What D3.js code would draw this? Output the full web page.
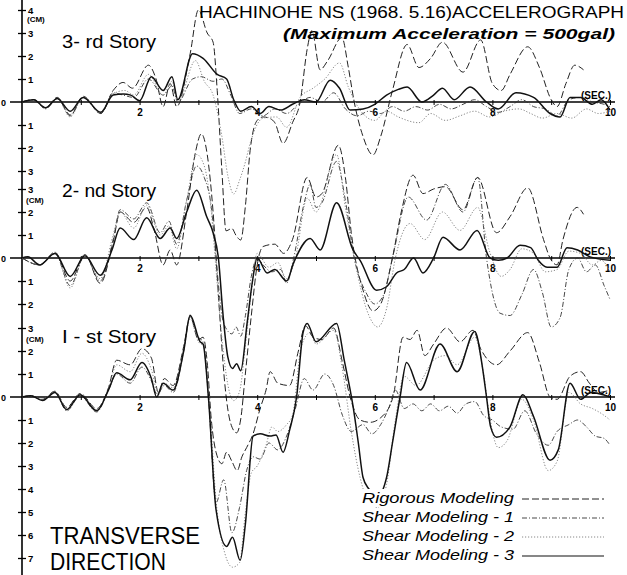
<!DOCTYPE html>
<html>
<head>
<meta charset="utf-8">
<script src="https://cdn.jsdelivr.net/npm/d3@7"></script>
<style>
  body { margin: 0; background: #fff; }
  svg { display: block; font-family: "Liberation Sans", Arial, sans-serif; }
</style>
</head>
<body>
<svg id="chart" width="627" height="575"></svg>
<script>
// [seconds, cm], one array per story and model
const thirdRigorous = [[0,0],[0.2,0.1],[0.4,-0.25],[0.6,0.2],[0.82,-0.6],[1.04,0.25],[1.34,-0.5],[1.55,0.5],[1.72,0.85],[1.88,0.6],[2.15,1.6],[2.28,1.0],[2.4,-0.2],[2.52,0.8],[2.63,-0.2],[2.86,2.1],[3.0,4.0],[3.15,3.0],[3.25,2.6],[3.32,0.5],[3.4,-3.0],[3.47,-5.6],[3.57,-5.5],[3.64,-5.8],[3.72,-6.0],[3.8,-4.5],[3.88,-2.1],[4.0,-0.8],[4.1,-0.65],[4.2,-0.7],[4.3,-0.9],[4.44,-1.8],[4.6,-0.9],[4.73,0],[4.85,2.3],[4.93,3.1],[5.07,1.4],[5.2,1.8],[5.44,2.8],[5.55,1.5],[5.65,0],[5.8,-1.5],[5.97,-2.3],[6.1,-1.5],[6.3,0.5],[6.55,2.5],[6.75,1.5],[6.95,1.9],[7.15,2.6],[7.5,1.3],[7.8,2.7],[8.0,0.8],[8.15,0.5],[8.3,1.2],[8.6,2.4],[8.8,1.5],[9.0,0.1],[9.1,-0.2],[9.25,0.8],[9.4,1.6],[9.55,1.4]];
const thirdShear1 = [[0,0],[0.2,0.1],[0.4,-0.3],[0.6,0.15],[0.82,-0.55],[1.04,0.2],[1.34,-0.5],[1.55,0.4],[1.72,0.3],[1.9,0.2],[2.15,1.0],[2.4,0.3],[2.55,0.7],[2.65,0.0],[2.9,1.0],[3.05,1.1],[3.25,0.9],[3.4,1.0],[3.55,0.3],[3.7,-0.5],[3.9,-0.3],[4.1,-0.6],[4.3,-0.3],[4.5,-0.5],[4.7,-0.1],[4.9,0.2],[5.1,0.0],[5.3,0.4],[5.5,-0.3],[5.7,-0.6],[5.9,-0.4],[6.1,-0.5],[6.3,-0.2],[6.5,-0.4],[6.7,-0.2],[6.9,-0.35],[7.1,-0.1],[7.3,-0.3],[7.5,-0.1],[7.7,0.1],[7.9,-0.2],[8.1,-0.45],[8.3,-0.2],[8.5,0.1],[8.7,-0.2],[8.9,-0.3],[9.1,-0.6],[9.3,0.1],[9.5,0.2],[9.7,0.0],[9.9,-0.1],[10,-0.2]];
const thirdShear2 = [[0,0],[0.2,0.1],[0.4,-0.25],[0.6,0.15],[0.82,-0.65],[1.04,0.2],[1.34,-0.45],[1.55,0.35],[1.75,0.5],[1.9,0.3],[2.15,1.2],[2.4,0.3],[2.55,0.9],[2.65,0.0],[2.95,1.8],[3.1,0.9],[3.25,0.3],[3.4,-1.5],[3.5,-3.2],[3.6,-4.0],[3.7,-3.4],[3.8,-2.6],[3.88,-1.8],[4.1,-0.7],[4.33,-0.65],[4.5,-1.1],[4.73,0.2],[4.95,0.6],[5.15,1.0],[5.4,1.7],[5.55,0.65],[5.75,-0.35],[6.0,-0.8],[6.2,-0.4],[6.4,-0.65],[6.75,-0.9],[6.95,-0.5],[7.2,-0.8],[7.45,-0.6],[7.7,-0.4],[7.95,-0.65],[8.2,-0.4],[8.45,-0.3],[8.65,-0.5],[8.85,-0.7],[9.1,-0.5],[9.35,-0.7],[9.6,-0.3],[9.8,-0.5],[10,-0.4]];
const thirdShear3 = [[0,0],[0.2,0.1],[0.4,-0.25],[0.6,0.15],[0.82,-0.4],[1.04,0.2],[1.34,-0.45],[1.55,0.3],[1.72,0.35],[1.85,0.3],[2.0,0.05],[2.2,1.1],[2.4,0.5],[2.55,1.1],[2.65,0.1],[2.9,2.1],[3.08,1.9],[3.32,1.2],[3.48,1.0],[3.6,0.1],[3.72,-0.4],[3.9,-0.2],[4.05,-0.5],[4.2,-0.2],[4.4,-0.35],[4.6,-0.1],[4.8,0.1],[5.0,0.0],[5.24,0.95],[5.4,0.6],[5.58,-0.35],[5.8,-0.3],[6.0,-0.1],[6.2,0.3],[6.4,0.55],[6.55,0.65],[6.8,0.0],[7.0,0.3],[7.15,0.6],[7.35,0.1],[7.62,0.65],[7.9,0.0],[8.1,-0.3],[8.4,0.4],[8.7,0.2],[8.98,-0.5],[9.15,-0.65],[9.32,0.2],[9.5,0.2],[9.7,-0.1],[9.85,0.1],[10,-0.35]];

const secondRigorous = [[0,0],[0.3,-0.3],[0.56,0.25],[0.82,-1.0],[1.07,0.15],[1.33,-1.1],[1.55,0.7],[1.67,2.0],[1.9,1.55],[2.12,2.2],[2.25,1.2],[2.4,-0.3],[2.52,0.35],[2.63,-0.3],[2.8,2.0],[2.95,4.6],[3.05,5.4],[3.15,4.5],[3.25,2.0],[3.35,-2.0],[3.45,-5.5],[3.55,-7.2],[3.65,-7.6],[3.72,-7.0],[3.8,-5.0],[3.9,-2.5],[4.0,-0.3],[4.1,0.5],[4.3,0.6],[4.45,0.2],[4.6,0.8],[4.85,3.5],[5.0,2.65],[5.1,2.8],[5.38,4.9],[5.5,3.5],[5.6,1.1],[5.8,-1.4],[5.97,-2.3],[6.1,-2.0],[6.3,0.0],[6.45,2.0],[6.65,3.6],[6.82,2.8],[7.0,3.0],[7.2,3.1],[7.5,2.1],[7.75,3.5],[8.07,1.1],[8.3,1.8],[8.6,3.05],[8.87,0.8],[8.98,0.0],[9.1,-0.3],[9.2,0.8],[9.44,2.2],[9.55,1.9]];
const secondShear1 = [[0,0],[0.3,-0.3],[0.56,0.2],[0.82,-1.2],[1.07,0.1],[1.33,-1.0],[1.55,0.8],[1.67,2.1],[1.9,1.7],[2.12,2.4],[2.35,1.1],[2.5,1.6],[2.63,0.6],[2.8,2.5],[2.97,4.0],[3.1,3.5],[3.22,2.2],[3.3,0.0],[3.4,-2.5],[3.48,-3.1],[3.57,-3.3],[3.64,-3.0],[3.72,-3.4],[3.8,-2.5],[3.9,-0.8],[4.0,0.0],[4.1,-0.3],[4.25,-0.6],[4.4,-0.5],[4.5,-1.1],[4.62,0.0],[4.8,2.4],[4.9,3.2],[5.0,2.2],[5.1,2.4],[5.35,4.2],[5.5,2.5],[5.65,0.0],[5.85,-1.5],[6.0,-2.0],[6.15,-1.6],[6.3,0.0],[6.57,2.65],[6.88,1.65],[7.2,3.2],[7.5,2.0],[7.75,3.5],[7.9,0.0],[8.13,-2.4],[8.3,-2.5],[8.5,-1.6],[8.7,-0.5],[8.85,-1.5],[9.0,-3.0],[9.15,-2.6],[9.3,-0.5],[9.45,0.0],[9.6,-0.6],[9.75,-0.3],[9.9,-1.2],[10,-1.8]];
const secondShear2 = [[0,0],[0.3,-0.3],[0.56,0.25],[0.82,-1.3],[1.07,0.15],[1.33,-0.9],[1.55,1.0],[1.67,2.0],[1.9,1.3],[2.12,2.3],[2.35,1.0],[2.5,1.4],[2.63,0.4],[2.8,2.5],[2.97,4.5],[3.1,4.0],[3.22,2.0],[3.3,-0.5],[3.4,-3.5],[3.5,-5.5],[3.6,-6.2],[3.7,-5.8],[3.8,-3.8],[3.9,-1.5],[4.0,0.2],[4.2,-0.4],[4.35,-0.2],[4.5,-0.9],[4.65,0.0],[4.85,2.6],[5.0,2.0],[5.35,4.5],[5.5,2.2],[5.65,0.0],[5.9,-2.5],[6.05,-3.0],[6.2,-2.2],[6.35,0.0],[6.6,1.5],[6.85,0.8],[7.15,2.0],[7.45,1.2],[7.75,2.2],[7.95,0.3],[8.15,-0.8],[8.3,-0.5],[8.5,0.4],[8.7,0.2],[8.9,-0.6],[9.1,-0.5],[9.3,0.3],[9.5,0.2],[9.7,-0.3],[9.85,-0.1],[10,-0.6]];
const secondShear3 = [[0,0],[0.1,0.05],[0.3,-0.3],[0.56,0.2],[0.82,-0.8],[1.07,0.1],[1.33,-0.75],[1.53,0.35],[1.67,1.3],[1.9,0.8],[2.12,1.75],[2.35,0.85],[2.52,1.3],[2.63,0.85],[2.8,2.0],[2.97,2.95],[3.14,1.8],[3.25,1.1],[3.34,0.0],[3.42,-2.5],[3.5,-4.3],[3.58,-4.8],[3.65,-4.6],[3.72,-4.9],[3.83,-2.8],[3.92,-1.0],[4.0,0.0],[4.17,-0.65],[4.3,-0.5],[4.5,-1.0],[4.62,-0.2],[4.9,0.85],[5.07,0.35],[5.35,2.4],[5.63,0.35],[5.75,-0.1],[6.03,-1.4],[6.2,-1.25],[6.37,-0.65],[6.5,-0.5],[6.66,0.0],[6.82,-0.65],[7.0,0.0],[7.16,0.9],[7.45,0.35],[7.74,1.2],[7.96,0.0],[8.1,-0.1],[8.25,0.0],[8.47,0.55],[8.65,0.45],[8.78,-0.1],[8.93,-0.4],[9.1,-0.4],[9.27,0.45],[9.45,0.35],[9.66,0.05],[10,-0.1]];

const firstRigorous = [[0,0],[0.15,0.05],[0.35,-0.1],[0.56,0.25],[0.76,-0.45],[0.99,0.15],[1.27,-0.5],[1.47,0.4],[1.61,1.6],[1.84,1.4],[2.04,2.1],[2.2,1.7],[2.32,0.2],[2.42,0.8],[2.57,0.5],[2.75,2.2],[2.86,3.5],[3.0,2.5],[3.08,2.6],[3.15,1.5],[3.22,-1.0],[3.3,-2.4],[3.4,-2.9],[3.48,-2.4],[3.57,-2.8],[3.66,-3.2],[3.74,-2.6],[3.82,-2.2],[3.93,-1.6],[4.05,-0.5],[4.15,0.3],[4.22,1.1],[4.35,0.6],[4.55,0.5],[4.7,2.0],[4.82,3.1],[4.95,2.6],[5.1,2.5],[5.3,3.0],[5.45,1.5],[5.58,0.0],[5.75,-1.0],[5.92,-1.1],[6.1,-0.9],[6.31,0.0],[6.48,2.6],[6.6,2.5],[6.72,2.9],[6.85,1.8],[7.0,2.3],[7.22,3.0],[7.45,2.4],[7.67,2.9],[7.8,2.1],[8.07,1.4],[8.3,2.0],[8.6,2.8],[8.8,1.5],[8.98,0.0],[9.1,-0.1],[9.32,0.9],[9.5,1.1],[9.65,0.6],[9.8,0.2],[10,0.3]];
const firstShear1 = [[0,0],[0.15,0.05],[0.35,-0.15],[0.56,0.2],[0.76,-0.6],[0.99,0.05],[1.27,-0.65],[1.47,0.3],[1.61,1.0],[1.84,0.6],[2.04,1.3],[2.2,0.7],[2.3,0.1],[2.42,0.5],[2.57,0.2],[2.75,2.0],[2.86,3.5],[3.0,2.6],[3.08,2.4],[3.17,0.0],[3.3,-4.6],[3.43,-3.6],[3.57,-5.9],[3.7,-4.8],[3.82,-3.2],[3.93,-2.6],[4.05,-2.7],[4.2,-2.0],[4.35,-2.3],[4.5,-1.7],[4.65,-0.5],[4.8,0.8],[4.95,0.3],[5.15,1.0],[5.3,0.5],[5.45,-0.8],[5.6,-1.5],[5.8,-1.2],[5.95,-1.6],[6.1,-1.2],[6.25,-0.4],[6.35,0.3],[6.5,-0.5],[6.65,-0.3],[6.8,-0.6],[6.95,-0.3],[7.1,-0.6],[7.25,-0.4],[7.4,-0.7],[7.55,-0.3],[7.7,-0.2],[7.85,-0.8],[8.0,-1.0],[8.15,-1.3],[8.35,-1.4],[8.55,-0.6],[8.75,-1.6],[8.95,-2.1],[9.1,-1.5],[9.3,-1.2],[9.45,-1.0],[9.6,-1.3],[9.75,-1.7],[9.9,-1.8],[10,-2.1]];
const firstShear2 = [[0,0],[0.15,0.05],[0.35,-0.1],[0.56,0.25],[0.76,-0.5],[0.99,0.1],[1.27,-0.55],[1.47,0.35],[1.61,1.4],[1.84,1.1],[2.04,1.9],[2.2,1.2],[2.32,0.1],[2.42,0.6],[2.57,0.4],[2.75,2.1],[2.86,3.4],[3.0,2.4],[3.1,2.2],[3.18,0.0],[3.3,-4.5],[3.45,-6.8],[3.58,-7.4],[3.7,-7.2],[3.8,-5.0],[3.9,-3.3],[4.0,-3.0],[4.15,-2.1],[4.25,-1.3],[4.35,-1.5],[4.5,-1.2],[4.6,-0.8],[4.75,2.2],[4.9,2.8],[5.0,2.3],[5.3,2.9],[5.45,1.2],[5.6,-1.5],[5.75,-3.5],[5.9,-4.6],[6.05,-4.8],[6.2,-3.8],[6.35,-1.0],[6.5,0.9],[6.7,0.5],[7.0,1.6],[7.2,1.8],[7.4,1.4],[7.7,2.6],[7.85,1.0],[7.95,-0.8],[8.1,-2.2],[8.25,-1.9],[8.5,-0.1],[8.7,-1.0],[8.95,-3.2],[9.1,-2.8],[9.3,0.2],[9.5,-0.3],[9.7,-0.5],[9.9,-0.8],[10,-1.0]];
const firstShear3 = [[0,0],[0.15,0.05],[0.35,-0.15],[0.56,0.2],[0.76,-0.55],[0.99,0.1],[1.27,-0.6],[1.47,0.3],[1.61,1.05],[1.84,0.75],[2.04,1.5],[2.2,0.8],[2.29,0.0],[2.4,0.6],[2.57,0.3],[2.75,2.0],[2.86,3.55],[3.03,2.4],[3.08,2.3],[3.17,0.0],[3.3,-4.9],[3.48,-6.5],[3.58,-6.1],[3.71,-7.1],[3.8,-5.5],[3.93,-1.7],[4.05,-1.6],[4.22,-1.7],[4.32,-1.65],[4.44,-2.4],[4.55,-1.45],[4.67,0.0],[4.78,2.8],[4.85,3.2],[5.0,2.4],[5.35,3.2],[5.48,1.6],[5.63,-0.4],[5.72,-2.0],[5.8,-3.5],[5.9,-4.0],[6.05,-4.3],[6.2,-3.5],[6.3,-2.0],[6.43,0.0],[6.54,1.5],[6.77,0.3],[7.11,2.3],[7.4,1.1],[7.7,2.85],[7.83,1.3],[7.9,0.0],[7.97,-1.3],[8.07,-1.75],[8.3,-1.3],[8.52,0.1],[8.7,-0.85],[8.98,-2.75],[9.12,-2.3],[9.32,0.6],[9.5,-0.1],[9.68,0.2],[10,0.0]];

const secTicks = [1, 2, 3, 4, 5, 6, 7, 8, 9, 10];
const secLabels = [2, 4, 6, 8, 10];
const modelNames = ["Rigorous Modeling", "Shear Modeling - 1", "Shear Modeling - 2", "Shear Modeling - 3"];

const svg = d3.select("#chart");
const x = d3.scaleLinear().domain([0, 10]).range([22, 610]);

const styles = [
    {dash: "7,3", width: 1.0, color: "#222"},
    {dash: "5,2,1,2", width: 0.9, color: "#333"},
    {dash: "1.2,1.8", width: 1.0, color: "#888"},
    {dash: null, width: 1.5, color: "#111"}
];

const panels = [
    {name: "3- rd  Story", zero: 102, nameY: 48, cmTicks: [4, 3, 2, 1, -1, -2, -3], series: [thirdRigorous, thirdShear1, thirdShear2, thirdShear3]},
    {name: "2- nd  Story", zero: 258, nameY: 197, cmTicks: [3, 2, 1, -1, -2], series: [secondRigorous, secondShear1, secondShear2, secondShear3]},
    {name: "I - st  Story", zero: 397, nameY: 343, cmTicks: [3, 2, 1, -1, -2, -3, -4, -5, -6, -7], series: [firstRigorous, firstShear1, firstShear2, firstShear3]}
];

// one vertical cm axis shared by all three stories
svg.append("line")
    .attr("x1", 22).attr("x2", 22)
    .attr("y1", 0).attr("y2", 575)
    .attr("stroke", "#000").attr("stroke-width", 1.6);

panels.forEach(p => {
    const y = d3.scaleLinear().domain([0, 1]).range([p.zero, p.zero - 23]);

    // cm ticks
    const yAxis = svg.append("g")
        .attr("transform", "translate(22,0)")
        .call(d3.axisRight(y).tickValues(p.cmTicks).tickSize(4).tickFormat(d => Math.abs(d)));
    yAxis.select(".domain").remove();
    yAxis.selectAll(".tick line").attr("x1", -4).attr("stroke-width", 1.3);
    yAxis.selectAll(".tick text")
        .attr("x", 6).attr("font-size", 9.5).attr("font-weight", "bold")
        .attr("font-family", "Liberation Sans, Arial, sans-serif");

    // time axis on the zero line
    svg.append("line")
        .attr("x1", 10).attr("x2", 615)
        .attr("y1", p.zero).attr("y2", p.zero)
        .attr("stroke", "#000").attr("stroke-width", 1.5);
    const xAxis = svg.append("g")
        .attr("transform", `translate(0,${p.zero})`)
        .call(d3.axisBottom(x).tickValues(secTicks).tickSize(3)
            .tickFormat(d => secLabels.includes(d) ? d : ""));
    xAxis.select(".domain").remove();
    xAxis.selectAll(".tick line").attr("y1", -2);
    xAxis.selectAll(".tick text")
        .attr("y", 7).attr("font-size", 10).attr("font-weight", "bold")
        .attr("font-family", "Liberation Sans, Arial, sans-serif");

    svg.append("text")
        .attr("x", 596).attr("y", p.zero - 3)
        .attr("text-anchor", "middle")
        .attr("font-size", 10).attr("font-weight", "bold")
        .text("(SEC.)");
    svg.append("text")
        .attr("x", 1).attr("y", p.zero + 4)
        .attr("font-size", 9).attr("font-weight", "bold")
        .text("0");

    const line = d3.line()
        .x(d => x(d[0]))
        .y(d => y(d[1]))
        .curve(d3.curveMonotoneX);

    p.series.forEach((s, i) => {
        svg.append("path")
            .datum(s)
            .attr("d", line)
            .attr("fill", "none")
            .attr("stroke", styles[i].color)
            .attr("stroke-width", styles[i].width)
            .attr("stroke-dasharray", styles[i].dash);
    });

    svg.append("text")
        .attr("x", 62).attr("y", p.nameY)
        .attr("font-size", 18)
        .attr("textLength", 94).attr("lengthAdjust", "spacingAndGlyphs")
        .text(p.name);
});

// (CM) unit labels
svg.append("text").attr("x", 27).attr("y", 22).attr("font-size", 8).attr("font-weight", "bold").text("(CM)");
svg.append("text").attr("x", 26).attr("y", 203).attr("font-size", 8).attr("font-weight", "bold").text("(CM)");
svg.append("text").attr("x", 26).attr("y", 342).attr("font-size", 8).attr("font-weight", "bold").text("(CM)");

// titles
svg.append("text")
    .attr("x", 199).attr("y", 18)
    .attr("font-size", 16)
    .attr("textLength", 425).attr("lengthAdjust", "spacingAndGlyphs")
    .text("HACHINOHE NS (1968. 5.16)ACCELEROGRAPH");
svg.append("text")
    .attr("x", 283).attr("y", 39)
    .attr("font-size", 15).attr("font-style", "italic").attr("font-weight", "bold")
    .attr("textLength", 332).attr("lengthAdjust", "spacingAndGlyphs")
    .text("(Maximum Acceleration = 500gal)");

svg.append("text").attr("x", 50).attr("y", 544).attr("font-size", 23)
    .attr("textLength", 150).attr("lengthAdjust", "spacingAndGlyphs").text("TRANSVERSE");
svg.append("text").attr("x", 50).attr("y", 570).attr("font-size", 23)
    .attr("textLength", 116).attr("lengthAdjust", "spacingAndGlyphs").text("DIRECTION");

// legend
const legend = svg.append("g");
modelNames.forEach((name, i) => {
    const ly = 503 + i * 19;
    legend.append("rect")
        .attr("x", 358).attr("y", ly - 14).attr("width", 160).attr("height", 18)
        .attr("fill", "#fff");
    legend.append("text")
        .attr("x", 362).attr("y", ly)
        .attr("font-size", 15).attr("font-style", "italic")
        .attr("textLength", 152).attr("lengthAdjust", "spacingAndGlyphs")
        .text(name);
    legend.append("line")
        .attr("x1", 522).attr("x2", 604)
        .attr("y1", ly - 4).attr("y2", ly - 4)
        .attr("stroke", styles[i].color)
        .attr("stroke-width", Math.min(styles[i].width, 1.1))
        .attr("stroke-dasharray", styles[i].dash);
});
</script>
</body>
</html>
